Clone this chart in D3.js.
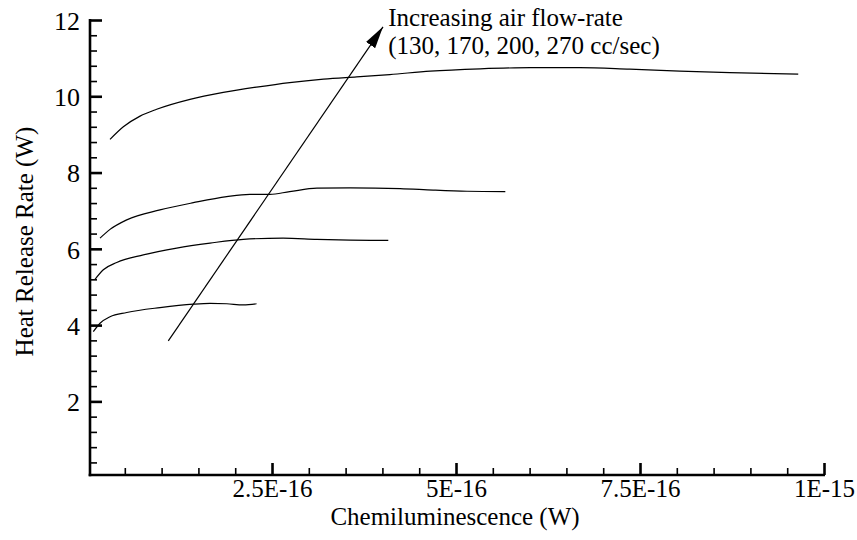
<!DOCTYPE html>
<html>
<head>
<meta charset="utf-8">
<script src="https://cdn.jsdelivr.net/npm/d3@7/dist/d3.min.js"></script>
<style>
  html, body { margin: 0; padding: 0; background: #fff; }
  svg { display: block; }
  text { font-family: "Liberation Serif", "Times New Roman", serif; fill: #000; }
</style>
</head>
<body>
<svg id="chart" width="857" height="540"></svg>
<script>
// ---- Data (x in units of 1e-16 W, y in W) ----
const X_UNIT = 1e-16;
const flowRates = [130, 170, 200, 270];

const x130 = [0.072, 0.163, 0.299, 0.526, 0.978, 1.431, 1.658, 1.885, 2.11, 2.29];
const y130 = [3.83, 4.05, 4.22, 4.33, 4.46, 4.55, 4.57, 4.56, 4.53, 4.56];

const x170 = [0.095, 0.208, 0.39, 0.751, 1.205, 1.658, 2.11, 2.65, 3.11, 3.56, 4.08];
const y170 = [5.20, 5.45, 5.64, 5.84, 6.02, 6.15, 6.25, 6.28, 6.25, 6.23, 6.22];

const x200 = [0.163, 0.299, 0.526, 0.978, 1.431, 1.885, 2.20, 2.47, 2.74, 3.11, 3.56, 4.24, 4.69, 5.15, 5.67];
const y200 = [6.28, 6.51, 6.76, 7.02, 7.21, 7.37, 7.43, 7.43, 7.50, 7.59, 7.60, 7.58, 7.54, 7.51, 7.50];

const x270 = [0.299, 0.48, 0.707, 0.933, 1.386, 1.838, 2.29, 2.74, 3.20, 3.65, 4.10, 4.65, 5.33, 6.01, 6.68, 7.36, 8.04, 8.72, 9.65];
const y270 = [8.87, 9.20, 9.48, 9.66, 9.92, 10.10, 10.24, 10.36, 10.45, 10.51, 10.57, 10.66, 10.72, 10.75, 10.75, 10.71, 10.66, 10.62, 10.58];

const xTickValues = [2.5e-16, 5e-16, 7.5e-16, 1e-15];
const xTickLabels = ["2.5E-16", "5E-16", "7.5E-16", "1E-15"];
const xMinorStep = 0.5e-16;
const yTickValues = [2, 4, 6, 8, 10, 12];
const yTickLabels = ["2", "4", "6", "8", "10", "12"];
const yMinorStep = 0.4;

// annotation arrow (data coordinates)
const arrowFrom = [1.091, 3.586];
const arrowTo = [4.008, 11.82];
const annotationLines = ["Increasing air flow-rate", "(130, 170, 200, 270 cc/sec)"];
const xTitle = "Chemiluminescence (W)";
const yTitle = "Heat Release Rate (W)";

// ---- Layout ----
const svg = d3.select("#chart");
const mLeft = 90, mRight = 824, mTop = 20, mBottom = 475;

const x = d3.scaleLinear().domain([0.027 * X_UNIT, 10 * X_UNIT]).range([mLeft, mRight]);
const y = d3.scaleLinear().domain([0.07, 12]).range([mBottom, mTop]);

const series = [
  { xs: x130, ys: y130 },
  { xs: x170, ys: y170 },
  { xs: x200, ys: y200 },
  { xs: x270, ys: y270 }
];

const line = d3.line()
  .x(d => x(d[0] * X_UNIT))
  .y(d => y(d[1]))
  .curve(d3.curveMonotoneX);

svg.append("g").selectAll("path")
  .data(series)
  .join("path")
  .attr("d", s => line(s.xs.map((v, i) => [v, s.ys[i]])))
  .attr("fill", "none")
  .attr("stroke", "#000")
  .attr("stroke-width", 1.2);

// ---- Axes ----
const xMinor = d3.range(xMinorStep, 10 * X_UNIT + 1e-20, xMinorStep)
  .filter(v => !xTickValues.some(t => Math.abs(t - v) < 1e-20));
const yMinor = d3.range(yMinorStep, 12.001, yMinorStep)
  .filter(v => !yTickValues.some(t => Math.abs(t - v) < 1e-6));

const xAxisMajor = d3.axisBottom(x).tickValues(xTickValues)
  .tickSize(-12).tickPadding(0).tickFormat((d, i) => xTickLabels[i]);
const xAxisMinor = d3.axisBottom(x).tickValues(xMinor).tickSize(-7).tickFormat("");
const yAxisMajor = d3.axisLeft(y).tickValues(yTickValues)
  .tickSize(-12).tickPadding(0).tickFormat((d, i) => yTickLabels[i]);
const yAxisMinor = d3.axisLeft(y).tickValues(yMinor).tickSize(-7).tickFormat("");

const gxMinor = svg.append("g").attr("transform", `translate(0,${mBottom})`).call(xAxisMinor);
gxMinor.select(".domain").remove();
gxMinor.selectAll(".tick line").attr("stroke", "#000").attr("stroke-width", 1.6);

const gx = svg.append("g").attr("transform", `translate(0,${mBottom})`).call(xAxisMajor);
gx.select(".domain").remove();
gx.selectAll(".tick line").attr("stroke", "#000").attr("stroke-width", 2.6);
gx.selectAll(".tick text")
  .attr("y", 22).attr("dy", 0)
  .style("font-size", "25px")
  .style("font-family", '"Liberation Serif", serif')
  .attr("fill", "#000");

const gyMinor = svg.append("g").attr("transform", `translate(${mLeft},0)`).call(yAxisMinor);
gyMinor.select(".domain").remove();
gyMinor.selectAll(".tick line").attr("stroke", "#000").attr("stroke-width", 1.6);

const gy = svg.append("g").attr("transform", `translate(${mLeft},0)`).call(yAxisMajor);
gy.select(".domain").remove();
gy.selectAll(".tick line").attr("stroke", "#000").attr("stroke-width", 2.6);
gy.selectAll(".tick text")
  .attr("x", -10).attr("dy", "0.36em")
  .style("font-size", "26px")
  .style("font-family", '"Liberation Serif", serif')
  .attr("fill", "#000");

// axis lines
svg.append("line")
  .attr("x1", mLeft).attr("x2", mLeft).attr("y1", mTop - 1).attr("y2", mBottom + 1.3)
  .attr("stroke", "#000").attr("stroke-width", 2.6);
svg.append("line")
  .attr("x1", mLeft - 1.3).attr("x2", mRight + 1).attr("y1", mBottom).attr("y2", mBottom)
  .attr("stroke", "#000").attr("stroke-width", 2.6);

// titles
svg.append("text")
  .attr("x", (mLeft + mRight) / 2 - 2).attr("y", 525)
  .attr("text-anchor", "middle")
  .style("font-size", "25px")
  .text(xTitle);

svg.append("text")
  .attr("transform", `translate(33,${(mTop + mBottom) / 2 - 6}) rotate(-90)`)
  .attr("text-anchor", "middle")
  .style("font-size", "25px")
  .text(yTitle);

// ---- Annotation arrow ----
const defs = svg.append("defs");
defs.append("marker")
  .attr("id", "arrowhead")
  .attr("markerUnits", "userSpaceOnUse")
  .attr("markerWidth", 24).attr("markerHeight", 14)
  .attr("viewBox", "0 -7 24 14")
  .attr("refX", 22).attr("refY", 0)
  .attr("orient", "auto")
  .append("path")
  .attr("d", "M0,-5.5L22,0L0,5.5Z")
  .attr("fill", "#000");

svg.append("line")
  .attr("x1", x(arrowFrom[0] * X_UNIT)).attr("y1", y(arrowFrom[1]))
  .attr("x2", x(arrowTo[0] * X_UNIT)).attr("y2", y(arrowTo[1]))
  .attr("stroke", "#000").attr("stroke-width", 1.2)
  .attr("marker-end", "url(#arrowhead)");

const ann = svg.append("text")
  .attr("x", x(4.08 * X_UNIT))
  .attr("y", y(arrowTo[1]) - 1)
  .style("font-size", "25px");
ann.selectAll("tspan")
  .data(annotationLines)
  .join("tspan")
  .attr("x", x(4.08 * X_UNIT))
  .attr("dy", (d, i) => i === 0 ? 0 : 28)
  .text(d => d);
</script>
</body>
</html>
